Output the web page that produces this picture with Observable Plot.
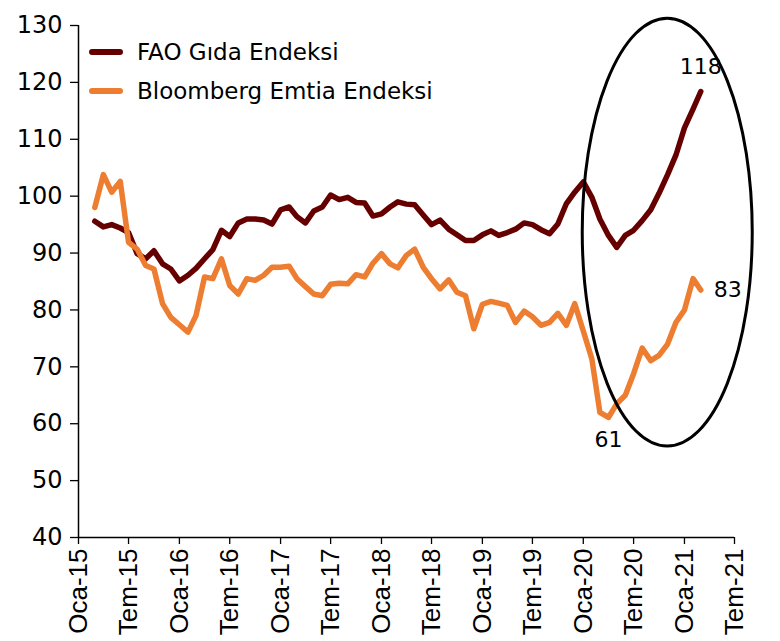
<!DOCTYPE html>
<html><head><meta charset="utf-8">
<script src="https://cdn.jsdelivr.net/npm/d3@7"></script>
<script src="https://cdn.jsdelivr.net/npm/@observablehq/plot@0.6"></script>
<style>
body{margin:0;background:#fff}
#wrap{position:relative;width:780px;height:641px;overflow:hidden}
.legend{position:absolute;left:89px;top:32px;font-family:"DejaVu Sans",sans-serif;font-size:23px;color:#000}
.row{display:flex;align-items:center;height:39px;white-space:nowrap}
.sw{width:34px;height:6px;border-radius:3px;margin-right:14px}
</style>
</head><body>
<div id="wrap"></div>
<script>
// monthly series, Mar 2015 .. Mar 2021
const firstMonth = "2015-03-01";
const lastMonth = "2021-03-01";
const seriesNames = ["FAO Gıda Endeksi", "Bloomberg Emtia Endeksi"];
const seriesColors = ["#660000", "#ED7D31"];
const fao = [95.6,94.6,95.0,94.4,93.6,89.9,89.0,90.4,88.1,87.2,
  85.1,86.1,87.3,89.0,90.6,94.0,92.9,95.3,96.0,96.0,95.8,95.1,
  97.6,98.1,96.4,95.3,97.4,98.1,100.2,99.4,99.8,98.9,98.8,96.5,
  96.9,98.1,99.0,98.6,98.5,96.7,95.0,95.8,94.2,93.2,92.2,92.2,
  93.2,93.9,93.1,93.6,94.2,95.3,95.0,94.1,93.4,95.1,98.7,100.7,
  102.5,99.8,96.0,93.1,91.0,93.1,94.0,95.7,97.6,100.5,103.8,107.2,
  112.0,115.3,118.4];
const bloomberg = [98.0,103.8,100.7,102.6,91.9,90.7,87.8,87.2,81.1,78.7,
  77.4,76.1,79.0,85.8,85.5,89.0,84.3,82.8,85.5,85.2,86.1,87.5,
  87.5,87.7,85.5,84.1,82.8,82.5,84.5,84.7,84.6,86.2,85.8,88.2,
  89.9,88.1,87.4,89.6,90.7,87.5,85.5,83.7,85.3,83.1,82.5,76.7,
  81.0,81.5,81.2,80.8,77.8,79.8,78.8,77.3,77.8,79.4,77.3,81.1,
  76.3,71.4,62.0,61.1,63.5,65.0,68.8,73.3,71.1,72.0,74.0,77.8,
  80.0,85.5,83.5];
const xTickDates = ["2015-01-01","2015-07-01","2016-01-01","2016-07-01","2017-01-01","2017-07-01","2018-01-01","2018-07-01","2019-01-01","2019-07-01","2020-01-01","2020-07-01","2021-01-01","2021-07-01"];
const xTickLabels = ["Oca-15","Tem-15","Oca-16","Tem-16","Oca-17","Tem-17","Oca-18","Tem-18","Oca-19","Tem-19","Oca-20","Tem-20","Oca-21","Tem-21"];
const yTicks = [40,50,60,70,80,90,100,110,120,130];
// value callouts
const faoLabel = {date: "2021-03-01", value: 118.4, text: "118"};
const bbgEndLabel = {date: "2021-03-01", value: 83.5, text: "83"};
const bbgMinLabel = {date: "2020-04-01", value: 61.1, text: "61"};
// highlight ellipse extents (data space)
const ellipseBox = {x1: "2019-12-30", x2: "2021-09-05", y1: 56.0, y2: 131.2};

const months = d3.utcMonth.range(new Date(firstMonth), d3.utcMonth.offset(new Date(lastMonth), 1));
const faoData = months.map((d, i) => ({date: d, value: fao[i]}));
const bbgData = months.map((d, i) => ({date: d, value: bloomberg[i]}));
const tickDates = xTickDates.map(s => new Date(s));
const labelOf = new Map(tickDates.map((d, i) => [+d, xTickLabels[i]]));
const pt = o => [{date: new Date(o.date), value: o.value, text: o.text}];

const font = `"DejaVu Sans",sans-serif`;
const narrow = `"Liberation Sans Narrow","Arial Narrow","Liberation Sans",sans-serif`;

const ellipseMark = (index, scales) => {
  const x1 = scales.x(new Date(ellipseBox.x1)), x2 = scales.x(new Date(ellipseBox.x2));
  const y1 = scales.y(ellipseBox.y1), y2 = scales.y(ellipseBox.y2);
  const g = d3.create("svg:g");
  g.append("ellipse")
    .attr("cx", (x1 + x2) / 2).attr("cy", (y1 + y2) / 2)
    .attr("rx", Math.abs(x2 - x1) / 2).attr("ry", Math.abs(y1 - y2) / 2)
    .attr("fill", "none").attr("stroke", "#000").attr("stroke-width", 3);
  return g.node();
};

const chart = Plot.plot({
  width: 780, height: 641,
  marginLeft: 78, marginRight: 46, marginTop: 25, marginBottom: 104,
  style: {fontFamily: font, fontSize: "23px", color: "#000", background: "#fff", overflow: "visible"},
  x: {type: "utc", domain: [new Date("2015-01-01"), new Date("2021-07-01")]},
  y: {domain: [40, 130]},
  marks: [
    Plot.axisY({ticks: yTicks, label: null, tickSize: 8, tickPadding: 8, fontSize: 24, fontFamily: font, stroke: "#000", strokeWidth: 1.3}),
    Plot.axisX({ticks: tickDates, label: null, tickFormat: d => labelOf.get(+d), tickRotate: -90, tickSize: 7, tickPadding: 4,
      fontSize: 26, fontFamily: narrow, stroke: "#000", strokeWidth: 1.3}),
    Plot.ruleX([new Date("2015-01-01")], {y1: 40, y2: 130, stroke: "#000", strokeWidth: 1.5}),
    Plot.ruleY([40], {stroke: "#000", strokeWidth: 1.5}),
    Plot.line(faoData, {x: "date", y: "value", stroke: seriesColors[0], strokeWidth: 5.5, strokeLinejoin: "round"}),
    Plot.line(bbgData, {x: "date", y: "value", stroke: seriesColors[1], strokeWidth: 5.5, strokeLinejoin: "round"}),
    Plot.text(pt(faoLabel), {x: "date", y: "value", text: "text", dy: -25, fontSize: 22, fontFamily: font, fill: "#000"}),
    Plot.text(pt(bbgEndLabel), {x: "date", y: "value", text: "text", dx: 27, fontSize: 22, fontFamily: font, fill: "#000"}),
    Plot.text(pt(bbgMinLabel), {x: "date", y: "value", text: "text", dy: 22, fontSize: 22, fontFamily: font, fill: "#000"}),
    ellipseMark
  ]
});
const wrap = document.getElementById("wrap");
wrap.appendChild(chart);
const legend = document.createElement("div");
legend.className = "legend";
seriesNames.forEach((n, i) => {
  const r = document.createElement("div"); r.className = "row";
  const s = document.createElement("span"); s.className = "sw"; s.style.background = seriesColors[i];
  const t = document.createElement("span"); t.textContent = n;
  r.appendChild(s); r.appendChild(t); legend.appendChild(r);
});
wrap.appendChild(legend);
</script>
</body></html>
